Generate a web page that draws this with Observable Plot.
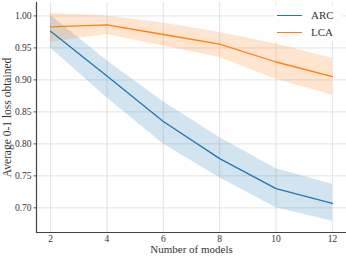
<!DOCTYPE html>
<html>
<head>
<meta charset="utf-8">
<script src="https://cdn.jsdelivr.net/npm/d3@7"></script>
<script src="https://cdn.jsdelivr.net/npm/@observablehq/plot@0.6"></script>
<style>
  html, body { margin: 0; padding: 0; background: #fff; }
  #wrap { position: relative; width: 346px; height: 257px; }
  #wrap svg text { font-family: "Liberation Serif", "DejaVu Serif", serif !important; }
  #legend { position: absolute; left: 274px; top: 5px; width: 68px; height: 36px; background: #fff;
    font-family: "Liberation Serif", serif; font-size: 11px; color: #333; }
  #legend .row { position: absolute; left: 3px; height: 14px; display: flex; align-items: center; }
  #legend .sw { width: 25px; height: 0; border-top: 1.3px solid; margin-right: 9px; }
</style>
</head>
<body>
<div id="wrap"></div>
<script>
const models = [2, 4, 6, 8, 10, 12];
const arcMean = [0.976, 0.906, 0.835, 0.777, 0.730, 0.707];
const arcLow  = [0.950, 0.872, 0.800, 0.747, 0.700, 0.679];
const arcHigh = [1.001, 0.930, 0.866, 0.810, 0.761, 0.737];
const lcaMean = [0.983, 0.986, 0.971, 0.956, 0.928, 0.905];
const lcaLow  = [0.959, 0.971, 0.953, 0.935, 0.901, 0.876];
const lcaHigh = [1.004, 1.000, 0.989, 0.974, 0.956, 0.934];
const seriesNames = ["ARC", "LCA"];
const colors = ["#1f77b4", "#ff7f0e"];
const yTicks = [0.70, 0.75, 0.80, 0.85, 0.90, 0.95, 1.00];
const xTicks = [2, 4, 6, 8, 10, 12];

const rows = [];
models.forEach((m, i) => {
  rows.push({series: "ARC", x: m, mean: arcMean[i], lo: arcLow[i], hi: arcHigh[i]});
  rows.push({series: "LCA", x: m, mean: lcaMean[i], lo: lcaLow[i], hi: lcaHigh[i]});
});

const chart = Plot.plot({
  width: 346,
  height: 257,
  marginLeft: 36,
  marginRight: 0,
  marginTop: 2,
  marginBottom: 25,
  style: {fontFamily: "Liberation Serif, serif", fontSize: "10px", color: "#333", background: "#fff"},
  x: {domain: [1.5, 12.5]},
  y: {domain: [0.6615, 1.021]},
  color: {domain: seriesNames, range: colors},
  marks: [
    Plot.gridX(xTicks, {stroke: "#dcdcdc", strokeOpacity: 1, strokeWidth: 0.8}),
    Plot.gridY(yTicks, {stroke: "#dcdcdc", strokeOpacity: 1, strokeWidth: 0.8}),
    Plot.areaY(rows, {x: "x", y1: "lo", y2: "hi", fill: "series", fillOpacity: 0.2, z: "series"}),
    Plot.lineY(rows, {x: "x", y: "mean", stroke: "series", strokeWidth: 1.3, z: "series"}),
    Plot.axisX(xTicks, {tickSize: 0, tickPadding: 3, fontSize: 9.5, label: null, fill: "#333"}),
    Plot.axisY(yTicks, {tickSize: 2.5, tickPadding: 2.5, stroke: "#555", fontSize: 9.5, label: null, fill: "#333", tickFormat: d => d.toFixed(2)}),
    Plot.frame({anchor: "left", stroke: "#444", strokeWidth: 1.2}),
    Plot.frame({anchor: "bottom", stroke: "#444", strokeWidth: 1.2}),
    Plot.text(["Number of models"], {frameAnchor: "bottom", dy: 20.5, fontSize: 11, fill: "#333"}),
    Plot.text(["Average 0-1 loss obtained"], {frameAnchor: "left", dx: -29, rotate: -90, textAnchor: "middle", fontSize: 11.5, fill: "#333"})
  ]
});
document.getElementById("wrap").appendChild(chart);

const legend = document.createElement("div");
legend.id = "legend";
seriesNames.forEach((name, i) => {
  const row = document.createElement("div");
  row.className = "row";
  row.style.top = (3 + i * 17) + "px";
  const sw = document.createElement("div");
  sw.className = "sw";
  sw.style.borderTopColor = colors[i];
  const t = document.createElement("span");
  t.textContent = name;
  row.appendChild(sw);
  row.appendChild(t);
  legend.appendChild(row);
});
document.getElementById("wrap").appendChild(legend);
</script>
</body>
</html>
